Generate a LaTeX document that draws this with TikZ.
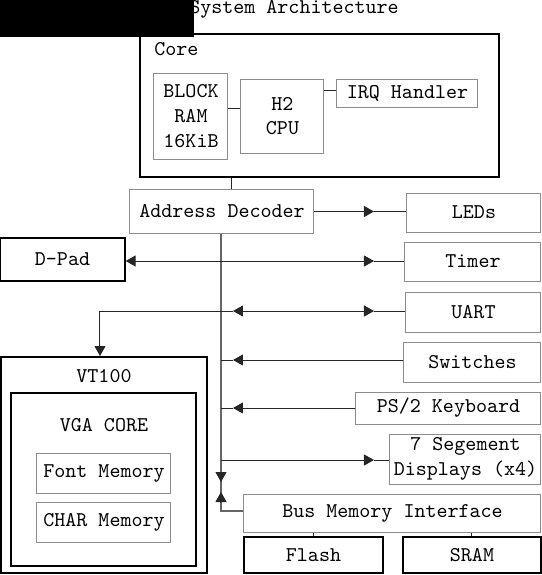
\documentclass[tikz,border=0pt]{standalone}
\usetikzlibrary{arrows.meta, positioning}

\tikzset{
  gbox/.style={draw=black!45, line width=0.5pt, align=center, inner sep=0pt},
  bbox/.style={draw=black, line width=0.65pt, align=center, inner sep=0pt},
  link/.style={draw=black!85, line width=0.5pt},
  busline/.style={draw=black!60, line width=0.55pt},
  bustip/.tip={Triangle[length=5pt,width=5.5pt]},
}

\begin{document}
\begin{tikzpicture}[x=0.5pt, y=-0.5pt, font=\ttfamily\fontsize{10.5}{12.4}\selectfont]
\useasboundingbox (0,0) rectangle (542,575);

% title and core
\node[anchor=base, inner sep=0pt] (title) at (294,13.5) {System Architecture};
\fill[black] (0,0) rectangle (194,37);
\node[bbox, minimum width=179.5pt, minimum height=71.5pt] (core) at (319.5,105.5) {};
\node[anchor=base west, inner sep=0pt] (corelbl) at (154,55) {Core};
\node[gbox, minimum width=37pt, minimum height=43pt] (ram) at (191,116) {BLOCK\\RAM\\16KiB};
\node[gbox, minimum width=41.5pt, minimum height=37pt] (cpu) at (282.5,116) {H2\\CPU};
\node[gbox, minimum width=70.5pt, minimum height=14pt] (irq) at (407.5,93.5) {IRQ Handler};
\draw[link] ([yshift=4pt]ram.east) -- ([yshift=4pt]ram.east -| cpu.west);
\draw[link] ([yshift=1.5pt]irq.west) -- ([yshift=1.5pt]irq.west -| cpu.east);

% decoder and peripherals
\node[gbox, minimum width=92pt, minimum height=22pt] (dec) at (222,211.5) {Address Decoder};
\draw[link] ([xshift=5pt]dec.north) -- ([xshift=5pt]dec.north |- core.south);
\node[gbox, minimum width=67pt, minimum height=19.5pt] (led) at (474,212.5) {LEDs};
\node[bbox, minimum width=62.5pt, minimum height=21.5pt] (dpad) at (62.5,259.5) {D-Pad};
\node[gbox, minimum width=68pt, minimum height=19.5pt] (timer) at (473,261.5) {Timer};
\node[gbox, minimum width=67.5pt, minimum height=20pt] (uart) at (473.5,312) {UART};
\node[gbox, minimum width=68.5pt, minimum height=20pt] (sw) at (472.5,362) {Switches};
\node[gbox, minimum width=92.5pt, minimum height=16pt] (ps2) at (448.5,408) {PS/2 Keyboard};
\node[gbox, minimum width=75.5pt, minimum height=25pt] (seg) at (465.5,459) {7 Segement\\Displays (x4)};
\node[gbox, minimum width=148.5pt, minimum height=19pt] (bmi) at (392.5,513) {Bus Memory Interface};
\node[bbox, minimum width=69.5pt, minimum height=18pt] (flash) at (313.5,555) {Flash};
\node[bbox, minimum width=69pt, minimum height=18pt] (sram) at (472,555) {SRAM};

% vt100
\node[draw, line width=1pt, minimum width=103pt, minimum height=108pt] (vt) at (104,465) {};
\node[anchor=base, inner sep=0pt] (vtlbl) at (104,382) {VT100};
\node[draw, line width=0.8pt, minimum width=92.5pt, minimum height=86.5pt] (vga) at (103.5,479.5) {};
\node[anchor=base, inner sep=0pt] (vgalbl) at (104,431) {VGA CORE};
\node[gbox, minimum width=67pt, minimum height=20pt] (fontmem) at (104,473) {Font Memory};
\node[gbox, minimum width=67pt, minimum height=20pt] (charmem) at (104,522) {CHAR Memory};

% bus
\coordinate (bus) at (221,0);
\coordinate (ltip) at (233,0);
\coordinate (rtip) at (374,0);
\coordinate (dn) at (221,482);
\coordinate (up) at (221,492);
\draw[busline] (bus |- dec.south) |- ([yshift=1pt]bmi.west);
\draw[link,-{bustip}] (dn) ++(0,-10) -- (dn);
\draw[link,-{bustip}] (up) ++(0,10) -- (up);

\draw[link,-{bustip}] (dec.east) -- (dec.east -| rtip);
\draw[link] (dec.east -| rtip) -- (led.west |- dec.east);
\draw[link,{bustip}-{bustip}] ([yshift=0.25pt]timer.west -| dpad.east) -- ([yshift=0.25pt]timer.west -| rtip);
\draw[link] ([yshift=0.25pt]timer.west -| rtip) -- ([yshift=0.25pt]timer.west);
\draw[link,{bustip}-{bustip}] ([yshift=0.5pt]uart.west -| ltip) -- ([yshift=0.5pt]uart.west -| rtip);
\draw[link] ([yshift=0.5pt]uart.west -| rtip) -- ([yshift=0.5pt]uart.west);
\draw[link,-{bustip}] ([yshift=0.5pt]uart.west -| ltip) -| ([xshift=-2pt]vt.north);
\draw[link,-{bustip}] ([yshift=1pt]sw.west) -- ([yshift=1pt]sw.west -| ltip);
\draw[link] ([yshift=1pt]sw.west -| ltip) -- ([yshift=1pt]sw.west -| bus);
\draw[link,-{bustip}] (ps2.west) -- (ps2.west -| ltip);
\draw[link] (ps2.west -| ltip) -- (ps2.west -| bus);
\draw[link,-{bustip}] ([yshift=-0.5pt]seg.west -| bus) -- ([yshift=-0.5pt]seg.west -| rtip);
\draw[link] ([yshift=-0.5pt]seg.west -| rtip) -- ([yshift=-0.5pt]seg.west);

\draw[link] (flash.north) -- (flash.north |- bmi.south);
\draw[link] (sram.north) -- (sram.north |- bmi.south);
\end{tikzpicture}
\end{document}
